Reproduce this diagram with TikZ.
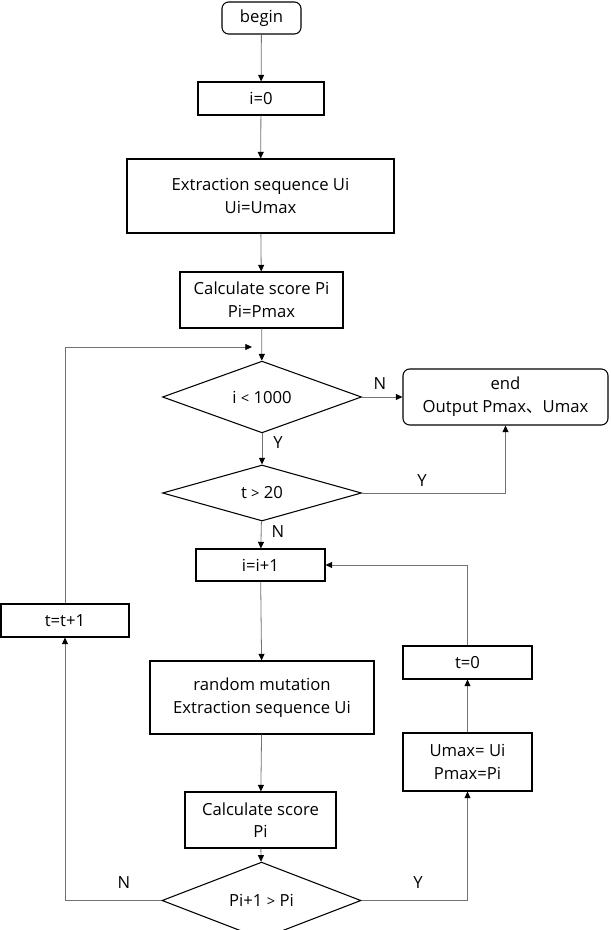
\documentclass[tikz,border=0pt]{standalone}
\usepackage{fontspec}
\setmainfont{Open Sans}
\newfontfamily\cjk{Noto Sans CJK SC}
\usepackage{tikz}
\usetikzlibrary{arrows.meta,positioning,calc,shapes.geometric}
\newcommand{\rel}[1]{{\fontsize{11}{12}\selectfont #1}}

\begin{document}
\begin{tikzpicture}[x=0.75pt,y=-0.75pt,
    box/.style={rectangle,draw,line width=0.8pt,inner sep=0pt,align=center,font=\fontsize{12.5}{17}\selectfont},
    term/.style={box,rounded corners=5pt},
    cond/.style={diamond,draw,line width=0.8pt,inner sep=0pt,minimum width=149.25pt,font=\fontsize{12.5}{17}\selectfont},
    lab/.style={font=\fontsize{12.5}{14}\selectfont,inner sep=0pt},
    flow/.style={draw=black!55,line width=0.6pt,-{Triangle[length=5pt,width=4.5pt,color=black]}}]
    \useasboundingbox (0,0) rectangle (610,930);
    % main column
    \node[term, minimum width=59.25pt, minimum height=24pt] (begin) at (261.5,18) {begin};
    \node[box, minimum width=94.5pt, minimum height=24.75pt] (init) at (261,98.5) {i=0};
    \node[box, minimum width=200.25pt, minimum height=55.5pt] (extract) at (260.5,196) {Extraction sequence Ui\\Ui=Umax};
    \node[box, minimum width=122.25pt, minimum height=42pt] (score1) at (261.5,300) {Calculate score Pi\\Pi=Pmax};
    \node[cond, minimum height=42.75pt] (cond1) at (262,397) {i \rel{<} 1000};
    \node[term, minimum width=153.75pt, minimum height=42pt] (finish) at (505.5,397) {end\\Output Pmax{\cjk 、}Umax};
    \node[cond, minimum height=42pt] (cond2) at (262,493) {t \rel{>} 20};
    \node[box, minimum width=96.75pt, minimum height=24pt] (incr) at (260.5,565) {i=i+1};
    \node[box, minimum width=168pt, minimum height=54.75pt] (mutate) at (262,697.5) {random mutation\\Extraction sequence Ui};
    \node[box, minimum width=113.25pt, minimum height=42pt] (score2) at (260.5,820) {Calculate score\\Pi};
    \node[cond, minimum height=41.25pt] (cond3) at (261.5,900.5) {Pi+1 \rel{>} Pi};
    % side boxes
    \node[box, minimum width=96pt, minimum height=24.75pt] (tincr) at (65,620.5) {t=t+1};
    \node[box, minimum width=96.75pt, minimum height=43.5pt] (update) at (467.5,762) {Umax= Ui\\Pmax=Pi};
    \node[box, minimum width=96.75pt, minimum height=24.75pt] (treset) at (467.5,662.5) {t=0};
    \coordinate (loopin) at (252,347);

    \draw[flow] (begin) -- (init);
    \draw[flow] (init) -- (extract);
    \draw[flow] (extract) -- (score1);
    \draw[flow] (score1) -- (cond1);
    \draw[flow] (cond1) -- (cond2);
    \draw[flow] (cond2) -- (incr);
    \draw[flow] (incr) -- (mutate);
    \draw[flow] (mutate) -- (score2);
    \draw[flow] (score2) -- (cond3);
    \draw[flow] (cond1.east) -- (finish.west);
    \draw[flow] (cond2.east) -| (finish.south);
    \draw[flow] (cond3.east) -| (update.south);
    \draw[flow] (update) -- (treset);
    \draw[flow] (treset.north) |- (incr.east);
    \draw[flow] (cond3.west) -| (tincr.south);
    \draw[flow] (tincr.north) |- (loopin);

    % branch labels
    \node[lab] (n1) at (380,384) {N};
    \node[lab] (y1) at (278,443) {Y};
    \node[lab] (y2) at (422,481) {Y};
    \node[lab] (n2) at (278,532) {N};
    \node[lab] (n3) at (124,883) {N};
    \node[lab] (y3) at (418,883) {Y};
\end{tikzpicture}
\end{document}
